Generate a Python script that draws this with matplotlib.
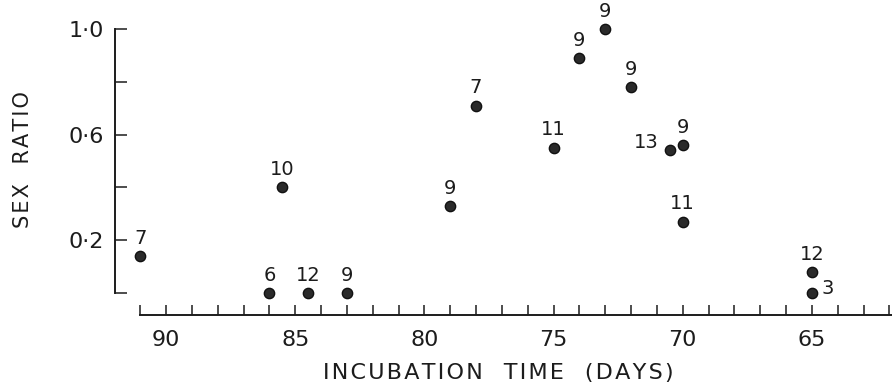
import matplotlib
matplotlib.use("Agg")
import matplotlib.pyplot as plt
from matplotlib.ticker import FixedLocator, MultipleLocator, FuncFormatter

# ---- data ----
incubation_days = [91, 86, 85.5, 84.5, 83, 79, 78, 75, 74, 73, 72, 70.5, 70, 70, 65, 65]
sex_ratio = [0.14, 0.0, 0.40, 0.0, 0.0, 0.33, 0.71, 0.55, 0.89, 1.0, 0.78, 0.54, 0.56, 0.27, 0.08, 0.0]
sample_sizes = ["7", "6", "10", "12", "9", "9", "7", "11", "9", "9", "9", "13", "9", "11", "12", "3"]
x_tick_labels = [90, 85, 80, 75, 70, 65]
y_tick_values = [0.0, 0.2, 0.4, 0.6, 0.8, 1.0]
y_tick_labelled = [0.2, 0.6, 1.0]
x_title = "INCUBATION  TIME  (DAYS)"
y_title = "SEX  RATIO"

# ---- layout / style ----
plt.rcParams['font.family'] = ['DejaVu Sans']
ink = '#1c1c1c'


def spaced(s):
    return "\u200a".join(s)


fig = plt.figure(figsize=(8.92, 3.91), dpi=100)
ax = fig.add_axes([115 / 892, (391 - 315) / 391, 777 / 892, (315 - 29) / 391])

ax.scatter(incubation_days, sex_ratio, s=55, facecolor='#2a2a2a', edgecolor='#111111',
           linewidths=1.0, zorder=3, clip_on=False)

label_side = {11: 'left', 15: 'right'}
for i, (x, y, n) in enumerate(zip(incubation_days, sex_ratio, sample_sizes)):
    side = label_side.get(i, 'above')
    if side == 'above':
        off, ha, va = (0, 6), 'center', 'bottom'
    elif side == 'left':
        off, ha, va = (-8, 6), 'right', 'center'
    else:
        off, ha, va = (7, 3), 'left', 'center'
    ax.annotate(n, (x, y), xytext=off, textcoords='offset points', ha=ha, va=va,
                fontsize=14, color=ink, annotation_clip=False)

ax.set_xlim(91.975, 61.90)
ax.set_ylim(-0.0833, 1.0)

for s in ['top', 'right']:
    ax.spines[s].set_visible(False)
ax.spines['left'].set_bounds(0, 1.0)
ax.spines['bottom'].set_bounds(91, 61.90)
for s in ['left', 'bottom']:
    ax.spines[s].set_linewidth(1.4)
    ax.spines[s].set_color(ink)

ax.xaxis.set_major_locator(FixedLocator(x_tick_labels))
ax.xaxis.set_minor_locator(MultipleLocator(1))
ax.xaxis.set_major_formatter(FuncFormatter(lambda v, p: f"{int(v)}"))
ax.tick_params(axis='x', which='both', direction='in', length=7.5, width=1.1,
               color=ink, labelcolor=ink)
ax.tick_params(axis='x', which='major', pad=11, labelsize=16)

ax.yaxis.set_major_locator(FixedLocator(y_tick_values))
ax.yaxis.set_major_formatter(FuncFormatter(
    lambda v, p: f"{v:.1f}".replace('.', '·') if any(abs(v - t) < 1e-6 for t in y_tick_labelled) else ""))
ax.tick_params(axis='y', which='major', direction='in', length=8.5, width=1.1,
               color=ink, labelcolor=ink, pad=8, labelsize=16)

fig.text(498 / 892, 1 - 373 / 391, spaced(x_title),
         ha='center', va='center', fontsize=16, color=ink)
fig.text(23 / 892, 1 - 160 / 391, spaced(y_title), rotation=90,
         ha='center', va='center', fontsize=15, color=ink)

fig.savefig("out.png", dpi=100, facecolor='white')
